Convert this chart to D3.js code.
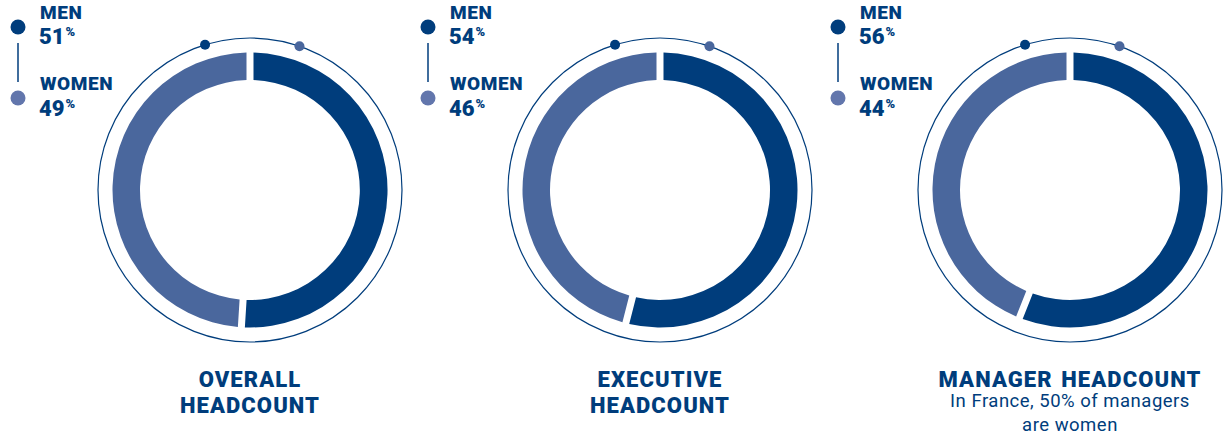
<!doctype html>
<html>
<head>
  <style>
    body { margin: 0; background: #ffffff; }
    text { font-family: Roboto, "Open Sans", sans-serif; }
  </style>
  <script src="https://d3js.org/d3.v7.min.js"></script>
</head>
<body>
<div id="chart"></div>
<script>
// data
var categories = ["OVERALL", "EXECUTIVE", "MANAGER"];
var titles = [["OVERALL", "HEADCOUNT"], ["EXECUTIVE", "HEADCOUNT"], ["MANAGER HEADCOUNT"]];
var notes = [[], [], ["In France, 50% of managers", "are women"]];
var menValues = [51, 54, 56];
var womenValues = [49, 46, 44];
var seriesNames = ["MEN", "WOMEN"];

var dark = "#003D7C", light = "#4A679D", legendLight = "#6276AC";
var width = 1225, height = 436;

var svg = d3.select("#chart").append("svg")
  .attr("width", width)
  .attr("height", height);

var x = d3.scaleBand().domain(categories).range([45, 1275]);

var pie = d3.pie().sort(null).value(function(d) { return d.v; });
var arc = d3.arc().innerRadius(110).outerRadius(137.5)
  .padAngle(7 / 124).padRadius(124);

categories.forEach(function(c, i) {
  var cx = x(c) + x.bandwidth() / 2; // donut centre
  var g = svg.append("g").attr("transform", "translate(" + cx + ",190)");

  var data = [{k: "men", v: menValues[i]}, {k: "women", v: womenValues[i]}];

  // outer thin ring
  g.append("circle").attr("r", 152).attr("fill", "none")
    .attr("stroke", dark).attr("stroke-width", 1.2);

  g.selectAll("path").data(pie(data)).enter().append("path")
    .attr("d", arc)
    .attr("fill", function(d) { return d.data.k == "men" ? dark : light; });

  // small dots on ring
  [[-17.2, dark], [19, light]].forEach(function(p) {
    var a = p[0] * Math.PI / 180;
    g.append("circle")
      .attr("cx", 152 * Math.sin(a)).attr("cy", -152 * Math.cos(a))
      .attr("r", 5).attr("fill", p[1]);
  });

  // legend
  var lx = cx - 232;
  var lg = svg.append("g").attr("transform", "translate(" + lx + ",0)");
  lg.append("line").attr("x1", 0).attr("x2", 0).attr("y1", 43).attr("y2", 82)
    .attr("stroke", dark).attr("stroke-width", 1.5);
  lg.append("circle").attr("cx", 0).attr("cy", 27).attr("r", 7.5).attr("fill", dark);
  lg.append("circle").attr("cx", 0).attr("cy", 98).attr("r", 7.5).attr("fill", legendLight);

  [[seriesNames[0], menValues[i], 19, 44], [seriesNames[1], womenValues[i], 90, 116]].forEach(function(s) {
    lg.append("text").attr("x", 22).attr("y", s[2])
      .attr("fill", dark).attr("font-size", 19).attr("font-weight", 900)
      .attr("letter-spacing", 0.6)
      .text(s[0]);
    var t = lg.append("text").attr("x", 21).attr("y", s[3])
      .attr("fill", dark).attr("font-size", 22).attr("font-weight", 900);
    t.append("tspan").text(s[1]);
    t.append("tspan").attr("font-size", 13).attr("dy", -8).attr("dx", 1).text("%");
  });

  // titles
  titles[i].forEach(function(line, j) {
    svg.append("text").attr("x", cx).attr("y", 387 + j * 26)
      .attr("text-anchor", "middle").attr("fill", dark)
      .attr("font-size", 22).attr("font-weight", 900)
      .attr("letter-spacing", 1.1).attr("word-spacing", 2)
      .text(line);
  });
  notes[i].forEach(function(line, j) {
    svg.append("text").attr("x", cx).attr("y", 407 + j * 24)
      .attr("text-anchor", "middle").attr("fill", dark)
      .attr("font-size", 18.5).attr("font-weight", 400)
      .attr("letter-spacing", 0.5)
      .text(line);
  });
});
</script>
</body>
</html>
